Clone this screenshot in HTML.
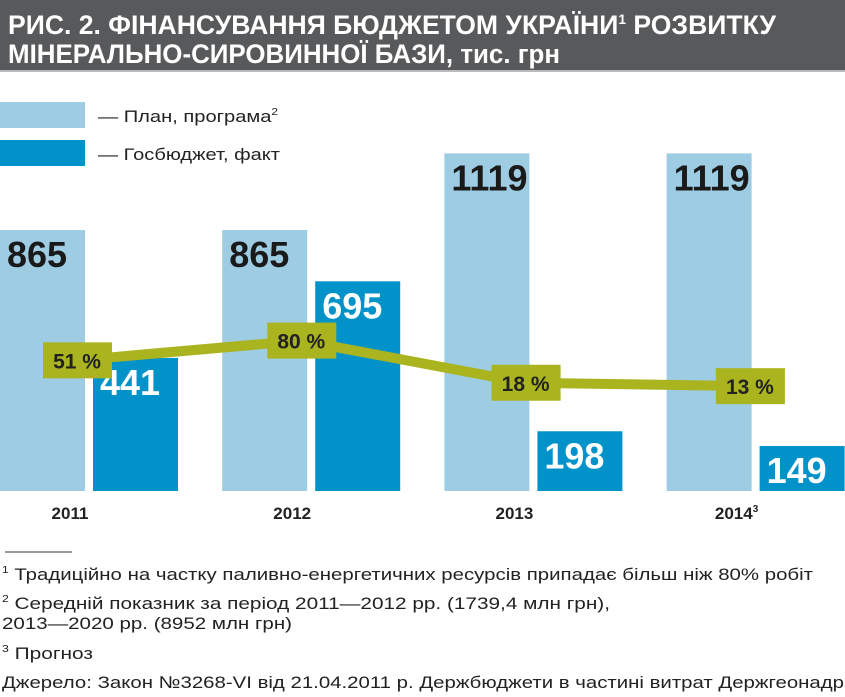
<!DOCTYPE html>
<html><head><meta charset="utf-8"><style>
html,body{margin:0;padding:0;background:#fff}
svg{display:block;font-family:"Liberation Sans",sans-serif}
</style></head><body>
<svg id="chart" width="845" height="697" viewBox="0 0 845 697">
<rect x="0" y="0" width="845" height="70" fill="#58595b"/>
<rect x="0" y="70" width="845" height="2" fill="#bbb"/>
<text x="8" y="34" fill="#fff" font-weight="bold" font-size="27" textLength="768" lengthAdjust="spacingAndGlyphs">РИС. 2. ФІНАНСУВАННЯ БЮДЖЕТОМ УКРАЇНИ<tspan font-size="14" dy="-10">1</tspan><tspan dy="10"> РОЗВИТКУ</tspan></text>
<text x="8" y="63" fill="#fff" font-weight="bold" font-size="27" textLength="552" lengthAdjust="spacingAndGlyphs">МІНЕРАЛЬНО-СИРОВИННОЇ БАЗИ, тис. грн</text>

<rect x="0" y="102" width="85" height="26" fill="#9dcce3"/>
<text x="98" y="122" font-size="17" fill="#222" textLength="180" lengthAdjust="spacingAndGlyphs">— План, програма<tspan font-size="10" dy="-7">2</tspan></text>
<rect x="0" y="140" width="85" height="26" fill="#0092c8"/>
<text x="98" y="160" font-size="17" fill="#222" textLength="182" lengthAdjust="spacingAndGlyphs">— Госбюджет, факт</text>

<g id="bars"></g>
<g id="line"></g>

<line x1="5" y1="552" x2="72" y2="552" stroke="#333" stroke-width="1"/>
<g font-size="17" fill="#222">
<text x="2" y="580" textLength="811" lengthAdjust="spacingAndGlyphs"><tspan font-size="10" dy="-7">1</tspan><tspan dy="7"> Традиційно на частку паливно-енергетичних ресурсів припадає більш ніж 80% робіт</tspan></text>
<text x="2" y="609" textLength="608" lengthAdjust="spacingAndGlyphs"><tspan font-size="10" dy="-7">2</tspan><tspan dy="7"> Середній показник за період 2011—2012 рр. (1739,4 млн грн),</tspan></text>
<text x="2" y="629" textLength="290" lengthAdjust="spacingAndGlyphs">2013—2020 рр. (8952 млн грн)</text>
<text x="2" y="659" textLength="91" lengthAdjust="spacingAndGlyphs"><tspan font-size="10" dy="-7">3</tspan><tspan dy="7"> Прогноз</tspan></text>
<text x="2" y="688" textLength="842" lengthAdjust="spacingAndGlyphs">Джерело: Закон №3268-VI від 21.04.2011 р. Держбюджети в частині витрат Держгеонадр</text>
</g>
</svg>
<script>
const categories = ["2011","2012","2013","2014"];
const planValues = [865, 865, 1119, 1119];
const factValues = [441, 695, 198, 149];
const percentValues = [51, 80, 18, 13];
const percentLabels = ["51 %","80 %","18 %","13 %"];

const NS = "http://www.w3.org/2000/svg";
const baseY = 491, pxPerUnit = 0.3017;
const groupX = i => i * 222.2;
const yVal = v => baseY - v * pxPerUnit;
const yPct = p => 395 - p * 0.68;
const cx = i => 77 + i * 224.3;
function mk(tag, attrs, parent){const e=document.createElementNS(NS,tag);for(const k in attrs)e.setAttribute(k,attrs[k]);parent.appendChild(e);return e;}
const bars = document.getElementById("bars"), line = document.getElementById("line");
categories.forEach((c,i)=>{
  const x = groupX(i);
  const pb = mk("rect",{x:x,y:yVal(planValues[i]),width:85,height:baseY-yVal(planValues[i]),fill:"#9dcce3"},bars);
  
  
  const fb = mk("rect",{x:x+93,y:yVal(factValues[i]),width:Math.min(85,845-(x+93)),height:baseY-yVal(factValues[i]),fill:"#0092c8"},bars);
  
  
  const pt = mk("text",{x:x+7,y:yVal(planValues[i])+37,"font-size":36,"font-weight":"bold",fill:"#1a1a1a"},bars);
  pt.textContent = planValues[i];
  
  
  const ft = mk("text",{x:x+100,y:yVal(factValues[i])+37,"font-size":36,"font-weight":"bold",fill:"#fff"},bars);
  ft.textContent = factValues[i];
  
  
  const yt = mk("text",{x:x+70,y:519,"font-size":17,"font-weight":"bold",fill:"#222","text-anchor":"middle"},bars);
  yt.textContent = c;
  if(i===3){const s=mk("tspan",{"font-size":10,dy:-7},yt);s.textContent="3";}
  
  
});
const pts = percentValues.map((p,i)=>cx(i)+","+yPct(p)).join(" ");
const pl = mk("polyline",{points:pts,fill:"none",stroke:"#a9b41f","stroke-width":10},line);


percentValues.forEach((p,i)=>{
  const bx = mk("rect",{x:cx(i)-34,y:yPct(p)-18,width:69,height:36,fill:"#a9b41f"},line);
  
  
  const t = mk("text",{x:cx(i),y:yPct(p)+8,"font-size":21,"font-weight":"bold",fill:"#222","text-anchor":"middle"},line);
  t.textContent = percentLabels[i];
  
  
});
</script>
</body></html>
